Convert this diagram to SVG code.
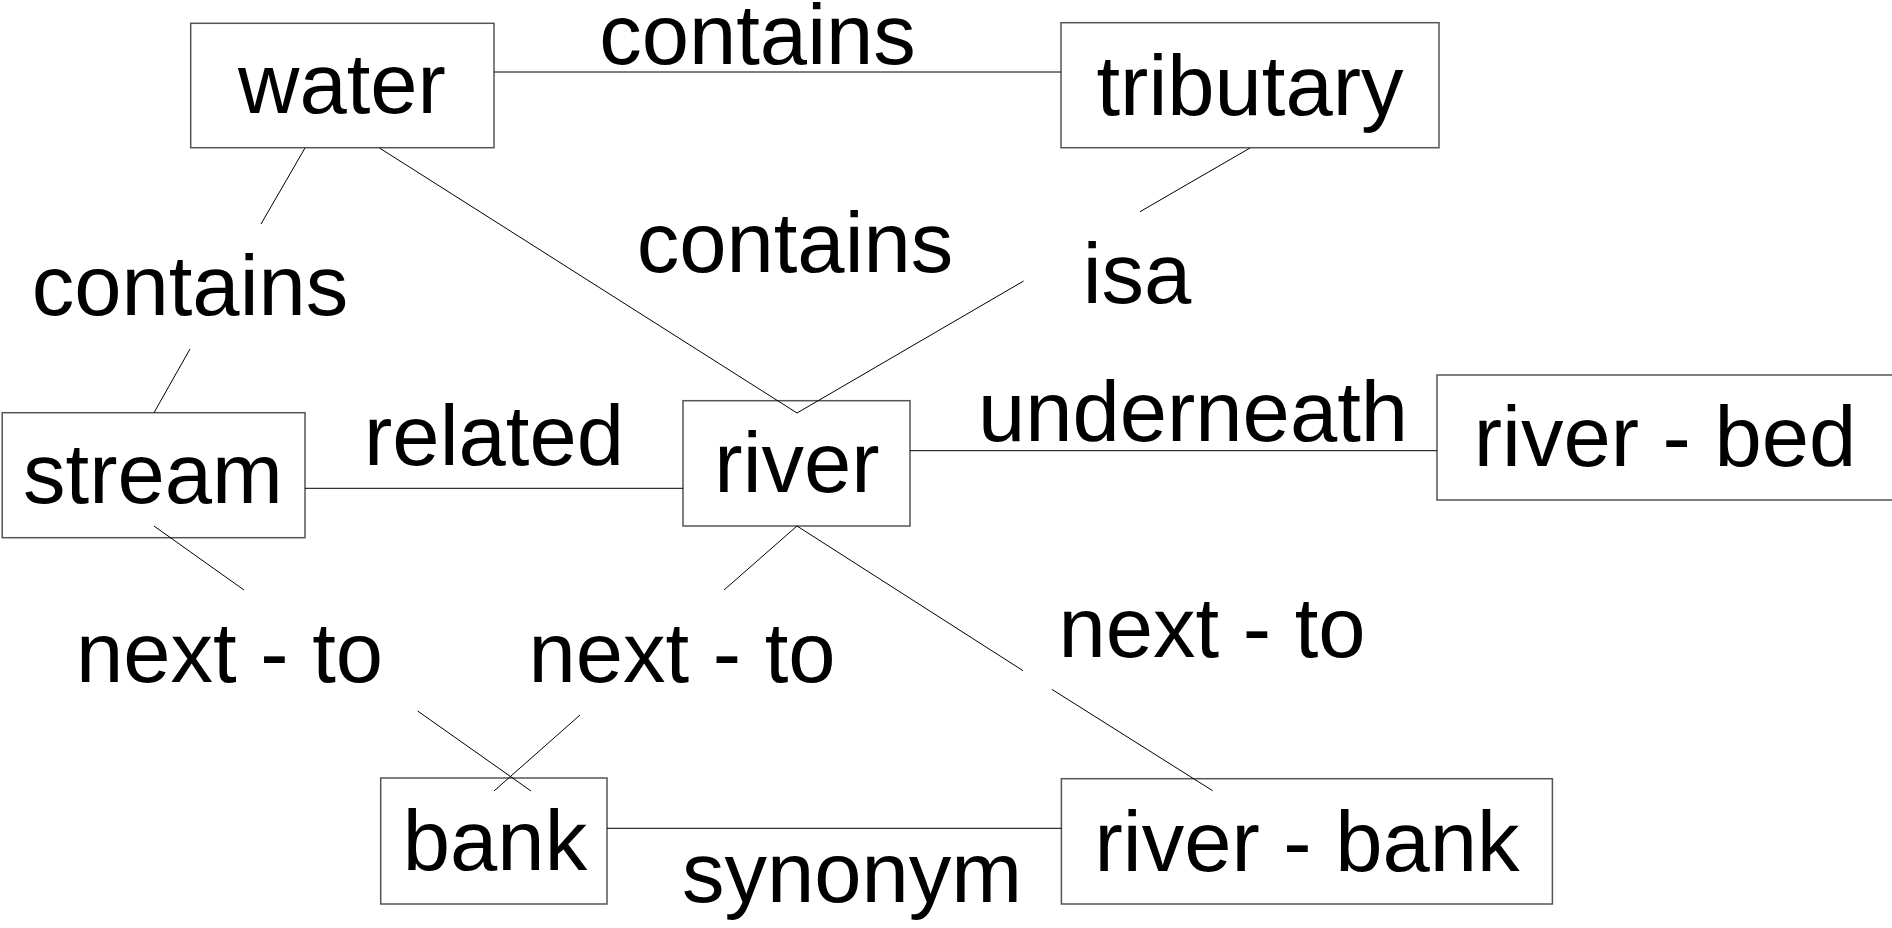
<svg xmlns="http://www.w3.org/2000/svg" width="1892" height="928" viewBox="0 0 1892 928">
  <style>
    .box { fill: #ffffff; stroke: #555555; stroke-width: 1.5; }
    .edge { fill: none; stroke: #000000; stroke-width: 1; }
    text { font-family: "Liberation Sans", Arial, sans-serif; font-size: 85px; fill: #000000; text-anchor: middle; }
  </style>
  <rect width="1892" height="928" fill="#ffffff"/>

  <g id="node-water">
    <rect class="box" x="190.7" y="23.3" width="303.3" height="124.4"/>
    <text x="342" y="113">water</text>
  </g>
  <g id="node-tributary">
    <rect class="box" x="1061" y="22.7" width="378" height="125"/>
    <text x="1250" y="115">tributary</text>
  </g>
  <g id="node-stream">
    <rect class="box" x="2.2" y="412.7" width="302.8" height="125"/>
    <text x="153" y="502.7">stream</text>
  </g>
  <g id="node-river">
    <rect class="box" x="683" y="400.7" width="227" height="125.3"/>
    <text x="797" y="491.7">river</text>
  </g>
  <g id="node-river-bed">
    <rect class="box" x="1437" y="375" width="460" height="125"/>
    <text x="1665" y="466">river - bed</text>
  </g>
  <g id="node-bank">
    <rect class="box" x="380.7" y="778" width="226.3" height="126"/>
    <text x="495" y="870">bank</text>
  </g>
  <g id="node-river-bank">
    <rect class="box" x="1061.4" y="778.7" width="491" height="125.3"/>
    <text x="1307" y="871">river - bank</text>
  </g>

  <!-- connectors, drawn over the boxes and broken around their labels -->
  <g id="edges">
    <line class="edge" x1="494" y1="72" x2="1061" y2="72"/>
    <line class="edge" x1="379.5" y1="148" x2="797" y2="413"/>
    <line class="edge" x1="305" y1="148" x2="261" y2="224"/>
    <line class="edge" x1="190" y1="349" x2="154" y2="412.7"/>
    <line class="edge" x1="1250" y1="148" x2="1140" y2="211.7"/>
    <line class="edge" x1="1023.6" y1="281" x2="797" y2="413"/>
    <line class="edge" x1="305" y1="488.3" x2="683" y2="488.3"/>
    <line class="edge" x1="910" y1="450.7" x2="1437" y2="450.7"/>
    <line class="edge" x1="154" y1="526" x2="244" y2="590"/>
    <line class="edge" x1="417.7" y1="711" x2="531" y2="791"/>
    <line class="edge" x1="797" y1="526" x2="724" y2="590"/>
    <line class="edge" x1="580" y1="715" x2="494" y2="791"/>
    <line class="edge" x1="797" y1="526" x2="1023" y2="670.7"/>
    <line class="edge" x1="1051.8" y1="689.3" x2="1212.6" y2="790.7"/>
    <line class="edge" x1="607" y1="828.3" x2="1061.4" y2="828.3"/>
  </g>

  <!-- connector labels -->
  <g id="edge-labels">
    <text x="757.5" y="64">contains</text>
    <text x="795" y="271.7">contains</text>
    <text x="190" y="315">contains</text>
    <text x="1137" y="303">isa</text>
    <text x="494" y="465">related</text>
    <text x="1193" y="441">underneath</text>
    <text x="229.6" y="681.7">next - to</text>
    <text x="682" y="681.7">next - to</text>
    <text x="1212" y="656.7">next - to</text>
    <text x="852" y="902">synonym</text>
  </g>
</svg>
